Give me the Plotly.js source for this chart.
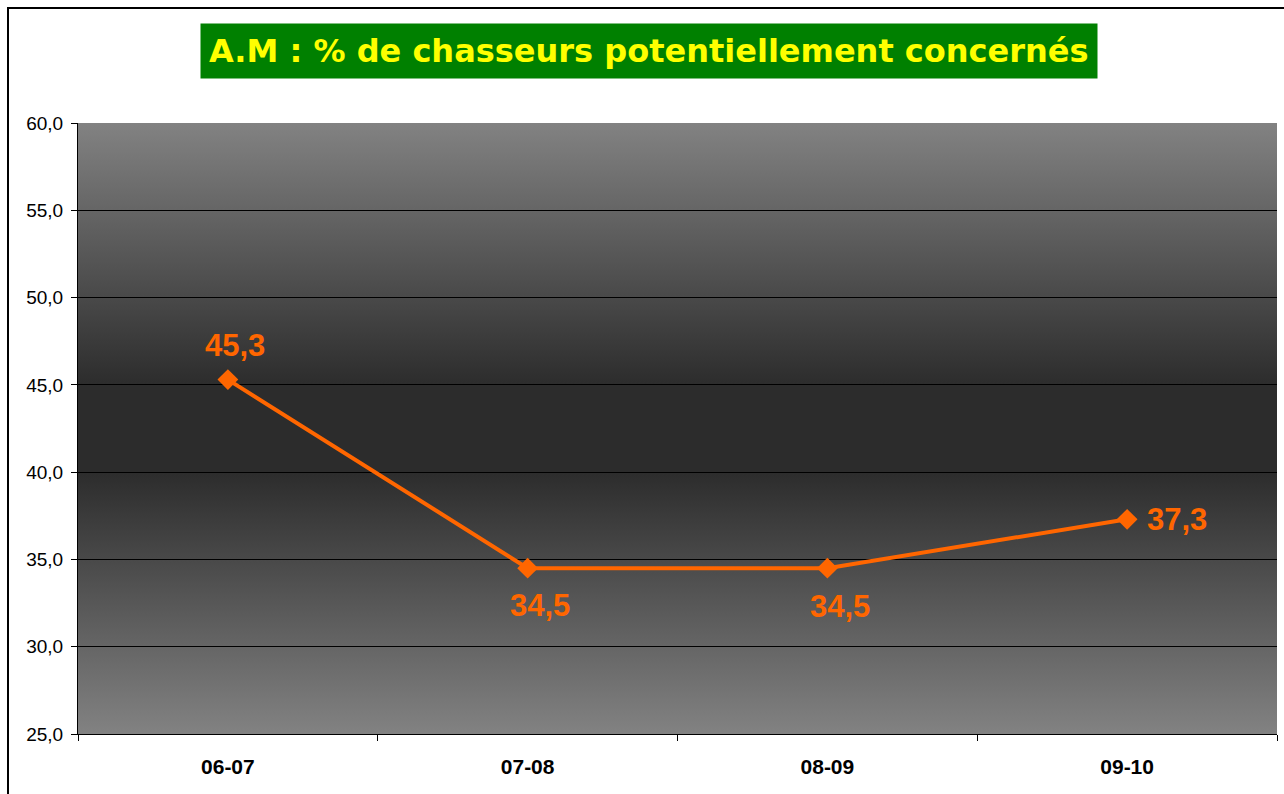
<!DOCTYPE html>
<html>
<head>
<meta charset="utf-8">
<script src="https://cdn.plot.ly/plotly-3.0.1.min.js"></script>
<style>
  html, body { margin: 0; padding: 0; width: 1284px; height: 794px; overflow: hidden; background: #fff; }
  #frame { position: absolute; left: 7px; top: 7px; width: 1400px; height: 900px; border: 2px solid #000; box-sizing: border-box; }
  #chart { position: absolute; left: 0; top: 0; width: 1284px; height: 794px; }
</style>
</head>
<body>
<div id="frame"></div>
<div id="chart"></div>
<script>
// Data
const seasons = ['06-07', '07-08', '08-09', '09-10'];
const percentValues = [45.3, 34.5, 34.5, 37.3];
const valueLabels = ['45,3', '34,5', '34,5', '37,3'];
const yTickValues = [25, 30, 35, 40, 45, 50, 55, 60];
const chartTitle = 'A.M : % de chasseurs potentiellement concernés';

// label placement (styling only)
const labelOffsets = [
  { dx: 7, dy: 34, anchor: 'center' },
  { dx: 12, dy: -37, anchor: 'center' },
  { dx: 13, dy: -38, anchor: 'center' },
  { dx: 18, dy: 0, anchor: 'left' }
];

const gradSvg = '<svg xmlns="http://www.w3.org/2000/svg" width="100" height="100" preserveAspectRatio="none">' +
  '<defs><linearGradient id="g" x1="0" y1="0" x2="0" y2="1">' +
  '<stop offset="0" stop-color="#828282"/>' +
  '<stop offset="0.43" stop-color="#2c2c2c"/>' +
  '<stop offset="0.57" stop-color="#2c2c2c"/>' +
  '<stop offset="1" stop-color="#828282"/>' +
  '</linearGradient></defs><rect width="100" height="100" fill="url(#g)"/></svg>';
const gradUri = 'data:image/svg+xml;base64,' + btoa(gradSvg);

const trace = {
  x: seasons,
  y: percentValues,
  type: 'scatter',
  mode: 'lines+markers',
  line: { color: '#FF6600', width: 4 },
  marker: { symbol: 'diamond', size: 16, color: '#FF6600' },
  cliponaxis: false,
  hoverinfo: 'skip'
};

const labelFont = { family: 'Arial, Liberation Sans, sans-serif', size: 31, color: '#FF6600', weight: 'bold' };
const valueAnnotations = seasons.map((s, i) => ({
  x: s, y: percentValues[i], xref: 'x', yref: 'y',
  text: valueLabels[i],
  showarrow: false,
  xanchor: labelOffsets[i].anchor, yanchor: 'middle',
  xshift: labelOffsets[i].dx, yshift: labelOffsets[i].dy,
  font: labelFont
}));

const layout = {
  width: 1284,
  height: 794,
  margin: { l: 78, r: 7, t: 123, b: 60 },
  paper_bgcolor: 'rgba(0,0,0,0)',
  plot_bgcolor: 'rgba(0,0,0,0)',
  separators: ', ',
  showlegend: false,
  xaxis: {
    type: 'category',
    range: [-0.5, 3.5],
    tickson: 'boundaries',
    ticks: 'outside',
    ticklen: 6,
    tickcolor: '#000',
    showline: true,
    linecolor: '#000',
    linewidth: 1,
    showgrid: false,
    zeroline: false,
    ticklabelstandoff: 14,
    tickfont: { family: 'Arial, Liberation Sans, sans-serif', size: 21, color: '#000', weight: 'bold' },
    fixedrange: true
  },
  yaxis: {
    range: [25, 60],
    tickvals: yTickValues,
    tickformat: '.1f',
    ticks: 'outside',
    ticklen: 6,
    tickcolor: '#000',
    showline: true,
    linecolor: '#000',
    linewidth: 1,
    showgrid: true,
    gridcolor: '#000',
    gridwidth: 1,
    zeroline: false,
    ticklabelstandoff: 4,
    tickfont: { family: 'Arial, Liberation Sans, sans-serif', size: 19, color: '#000' },
    fixedrange: true
  },
  images: [{
    source: gradUri,
    xref: 'paper', yref: 'paper',
    x: 0, y: 1, sizex: 1, sizey: 1,
    xanchor: 'left', yanchor: 'top',
    sizing: 'stretch',
    layer: 'below'
  }],
  annotations: [{
    text: '<b>' + chartTitle + '</b>',
    xref: 'paper', yref: 'paper',
    x: 0.4766, y: 1.118,
    xanchor: 'center', yanchor: 'middle',
    showarrow: false,
    bgcolor: '#008000',
    borderpad: 8,
    font: { family: 'DejaVu Sans, Verdana, sans-serif', size: 32, color: '#FFFF00' }
  }].concat(valueAnnotations)
};

Plotly.newPlot('chart', [trace], layout, { displayModeBar: false, staticPlot: true });
</script>
</body>
</html>
